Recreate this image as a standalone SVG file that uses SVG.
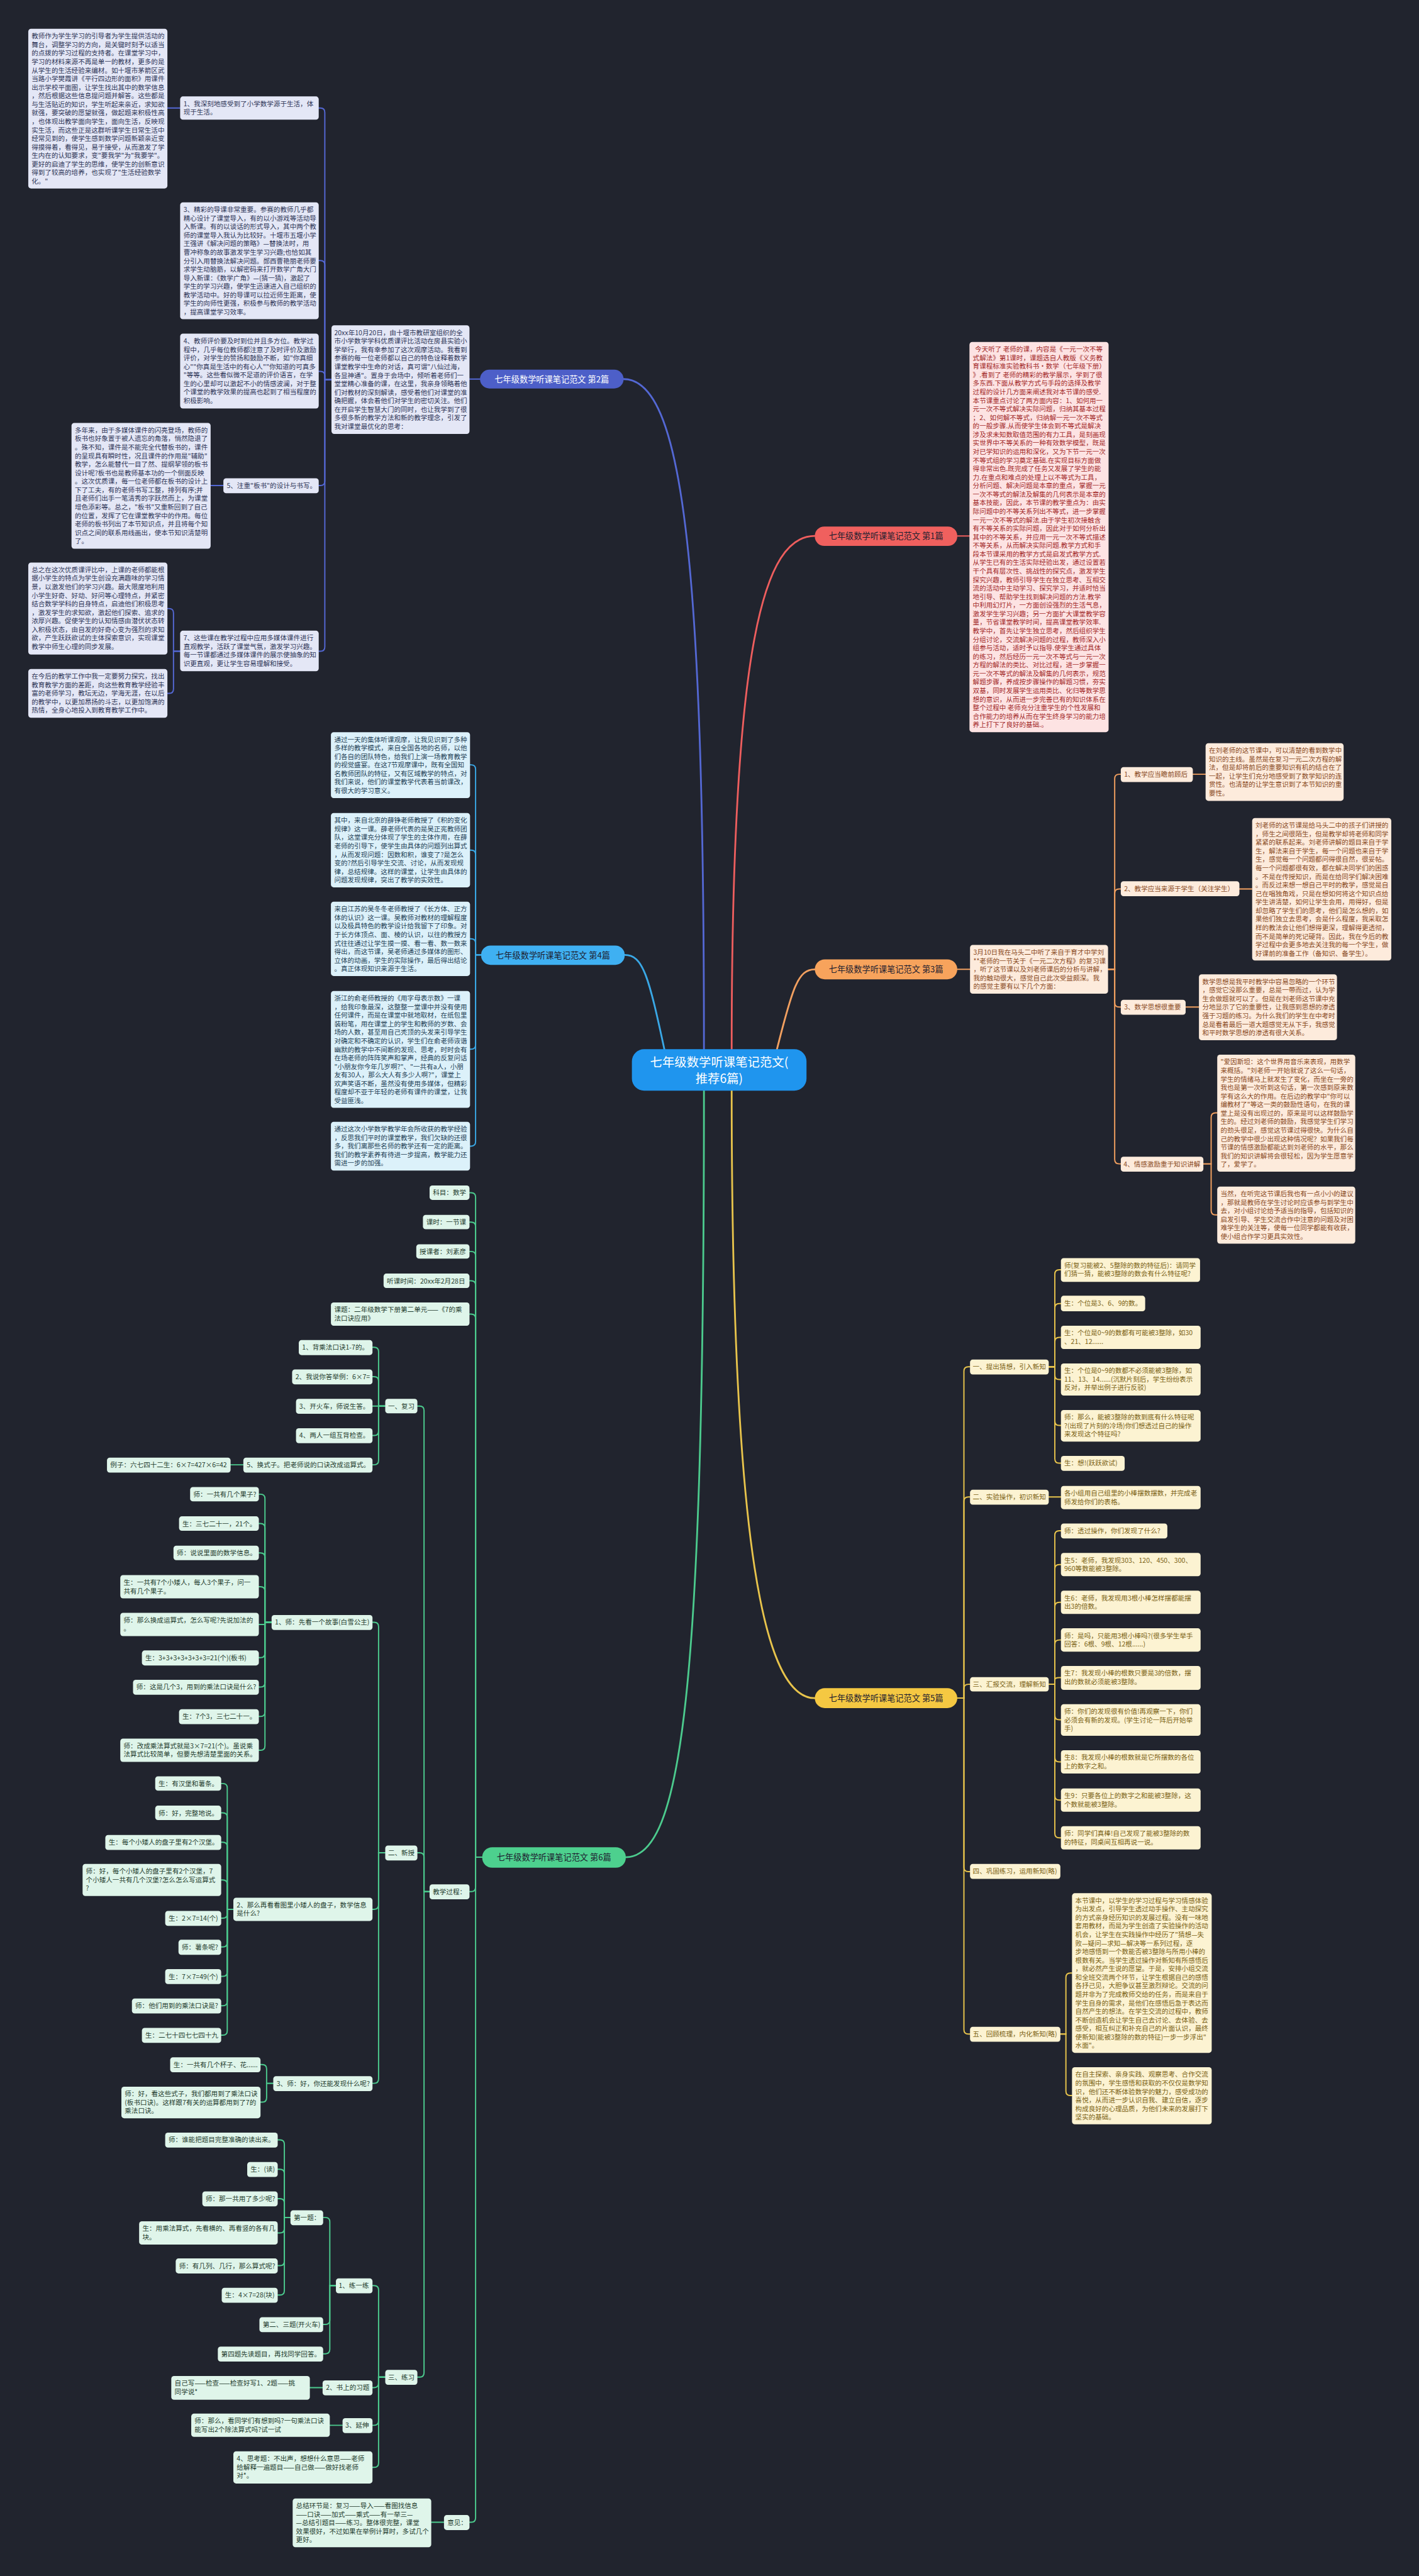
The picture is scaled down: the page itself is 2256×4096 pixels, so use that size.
<svg xmlns="http://www.w3.org/2000/svg" width="2256" height="4096" viewBox="0 0 2256 4096">
<style>
text{font-family:"Noto Sans CJK SC","Noto Sans",sans-serif;font-size:12px}
.c path{fill:none;stroke-width:2.2;stroke-linecap:round}
.m path{fill:none;stroke-width:3.2;stroke-linecap:round}
.k1 rect{fill:#fde3e3}.k1 text{fill:#a42a2a}
.k2 rect{fill:#e4e7f6}.k2 text{fill:#2f3658}
.k3 rect{fill:#fdebdc}.k3 text{fill:#8a4a1e}
.k4 rect{fill:#dcf1fa}.k4 text{fill:#1f4257}
.k5 rect{fill:#fcf3d2}.k5 text{fill:#7b6214}
.k6 rect{fill:#dff5ea}.k6 text{fill:#1f3d2f}
.pill text{font-size:15px;text-anchor:middle;fill:#1e2130}
</style>
<rect width="2256" height="4096" fill="#21242e"/>
<g transform="scale(0.88125)">
<g id="connectors">
<g class="m">
<path stroke="#5468d4" d="M 1270 1893 C 1270 1000, 1230 684, 1125 684"/>
<path stroke="#ee5e5e" d="M 1320 1893 C 1320 1150, 1380 967, 1470 967"/>
<path stroke="#f2a060" d="M 1400 1900 C 1430 1780, 1440 1749, 1470 1749"/>
<path stroke="#3aa8e6" d="M 1200 1900 C 1170 1760, 1160 1723, 1127 1723"/>
<path stroke="#e8c44c" d="M 1320 1968 C 1320 2800, 1380 3064, 1470 3064"/>
<path stroke="#4ccb8e" d="M 1270 1968 C 1270 3050, 1230 3351, 1129 3351"/>
</g>
<g class="c" stroke="#5468d4">
<path d="M 866 684 H 847"/>
<path d="M 598 685 H 586 V 203 Q 586 195 578 195 H 575"/>
<path d="M 598 685 H 586 V 478 Q 586 470 578 470 H 575"/>
<path d="M 598 685 H 586 V 678 Q 586 670 578 670 H 575"/>
<path d="M 598 685 H 586 V 868 Q 586 876 578 876 H 575"/>
<path d="M 598 685 H 586 V 1167 Q 586 1175 578 1175 H 575"/>
<path d="M 325 195 H 302"/>
<path d="M 403 876 H 380"/>
<path d="M 325 1175 H 313 V 1106 Q 313 1098 305 1098 H 302"/>
<path d="M 325 1175 H 313 V 1243 Q 313 1251 305 1251 H 302"/>
</g>
<g class="c" stroke="#3aa8e6">
<path d="M 868 1723 H 858 V 1388 Q 858 1380 850 1380 H 848"/>
<path d="M 868 1723 H 858 V 1542 Q 858 1534 850 1534 H 848"/>
<path d="M 868 1723 H 858 V 1702 Q 858 1694 850 1694 H 848"/>
<path d="M 868 1723 H 858 V 1885 Q 858 1893 850 1893 H 848"/>
<path d="M 868 1723 H 858 V 2060 Q 858 2068 850 2068 H 848"/>
</g>
<g class="c" stroke="#4ccb8e">
<path d="M 870 3351 H 858 V 2160 Q 858 2152 850 2152 H 847"/>
<path d="M 870 3351 H 858 V 2213 Q 858 2205 850 2205 H 847"/>
<path d="M 870 3351 H 858 V 2266 Q 858 2258 850 2258 H 847"/>
<path d="M 870 3351 H 858 V 2319 Q 858 2311 850 2311 H 847"/>
<path d="M 870 3351 H 858 V 2379 Q 858 2371 850 2371 H 847"/>
<path d="M 870 3351 H 858 V 3405 Q 858 3413 850 3413 H 847"/>
<path d="M 870 3351 H 858 V 4543 Q 858 4551 850 4551 H 847"/>
<path d="M 777 3413 H 765 V 2545 Q 765 2537 757 2537 H 753"/>
<path d="M 777 3413 H 765 V 3351 Q 765 3343 757 3343 H 753"/>
<path d="M 777 3413 H 765 V 4281 Q 765 4289 757 4289 H 753"/>
<path d="M 695 2537 H 683 V 2439 Q 683 2431 675 2431 H 672"/>
<path d="M 695 2537 H 683 V 2492 Q 683 2484 675 2484 H 672"/>
<path d="M 695 2537 H 672"/>
<path d="M 695 2537 H 683 V 2582 Q 683 2590 675 2590 H 672"/>
<path d="M 695 2537 H 683 V 2635 Q 683 2643 675 2643 H 672"/>
<path d="M 439 2643 H 416"/>
<path d="M 695 3343 H 683 V 2935 Q 683 2927 675 2927 H 672"/>
<path d="M 695 3343 H 683 V 3437 Q 683 3445 675 3445 H 672"/>
<path d="M 695 3343 H 683 V 3751 Q 683 3759 675 3759 H 672"/>
<path d="M 490 2927 H 478 V 2704 Q 478 2696 470 2696 H 467"/>
<path d="M 490 2927 H 478 V 2757 Q 478 2749 470 2749 H 467"/>
<path d="M 490 2927 H 478 V 2810 Q 478 2802 470 2802 H 467"/>
<path d="M 490 2927 H 478 V 2871 Q 478 2863 470 2863 H 467"/>
<path d="M 490 2927 H 478 V 2931 H 467"/>
<path d="M 490 2927 H 478 V 2983 Q 478 2991 470 2991 H 467"/>
<path d="M 490 2927 H 478 V 3036 Q 478 3044 470 3044 H 467"/>
<path d="M 490 2927 H 478 V 3089 Q 478 3097 470 3097 H 467"/>
<path d="M 490 2927 H 478 V 3150 Q 478 3158 470 3158 H 467"/>
<path d="M 421 3445 H 410 V 3226 Q 410 3218 402 3218 H 399"/>
<path d="M 421 3445 H 410 V 3279 Q 410 3271 402 3271 H 399"/>
<path d="M 421 3445 H 410 V 3332 Q 410 3324 402 3324 H 399"/>
<path d="M 421 3445 H 410 V 3400 Q 410 3392 402 3392 H 399"/>
<path d="M 421 3445 H 410 V 3453 Q 410 3461 402 3461 H 399"/>
<path d="M 421 3445 H 410 V 3505 Q 410 3513 402 3513 H 399"/>
<path d="M 421 3445 H 410 V 3558 Q 410 3566 402 3566 H 399"/>
<path d="M 421 3445 H 410 V 3611 Q 410 3619 402 3619 H 399"/>
<path d="M 421 3445 H 410 V 3664 Q 410 3672 402 3672 H 399"/>
<path d="M 493 3759 H 481 V 3733 Q 481 3725 473 3725 H 470"/>
<path d="M 493 3759 H 481 V 3785 Q 481 3793 473 3793 H 470"/>
<path d="M 695 4289 H 683 V 4132 Q 683 4124 675 4124 H 672"/>
<path d="M 695 4289 H 683 V 4300 Q 683 4308 675 4308 H 672"/>
<path d="M 695 4289 H 683 V 4368 Q 683 4376 675 4376 H 672"/>
<path d="M 695 4289 H 683 V 4444 Q 683 4452 675 4452 H 672"/>
<path d="M 606 4124 H 595 V 4009 Q 595 4001 587 4001 H 583"/>
<path d="M 606 4124 H 595 V 4186 Q 595 4194 587 4194 H 583"/>
<path d="M 606 4124 H 595 V 4239 Q 595 4247 587 4247 H 583"/>
<path d="M 524 4001 H 513 V 3869 Q 513 3861 505 3861 H 501"/>
<path d="M 524 4001 H 513 V 3922 Q 513 3914 505 3914 H 501"/>
<path d="M 524 4001 H 513 V 3975 Q 513 3967 505 3967 H 501"/>
<path d="M 524 4001 H 513 V 4021 Q 513 4029 505 4029 H 501"/>
<path d="M 524 4001 H 513 V 4080 Q 513 4088 505 4088 H 501"/>
<path d="M 524 4001 H 513 V 4133 Q 513 4141 505 4141 H 501"/>
<path d="M 582 4308 H 559"/>
<path d="M 618 4376 H 595"/>
<path d="M 801 4551 H 778"/>
</g>
<g class="c" stroke="#ee5e5e">
<path d="M 1727 967 H 1749"/>
</g>
<g class="c" stroke="#f2a060">
<path d="M 1727 1749 H 1750"/>
<path d="M 1999 1749 H 2011 V 1405 Q 2011 1397 2019 1397 H 2022"/>
<path d="M 1999 1749 H 2011 V 1612 Q 2011 1604 2019 1604 H 2022"/>
<path d="M 1999 1749 H 2011 V 1809 Q 2011 1817 2019 1817 H 2022"/>
<path d="M 1999 1749 H 2011 V 2092 Q 2011 2100 2019 2100 H 2022"/>
<path d="M 2152 1397 H 2175"/>
<path d="M 2236 1604 H 2259"/>
<path d="M 2139 1817 H 2163"/>
<path d="M 2171 2100 H 2185 V 2016 Q 2185 2008 2193 2008 H 2196"/>
<path d="M 2171 2100 H 2185 V 2184 Q 2185 2192 2193 2192 H 2196"/>
</g>
<g class="c" stroke="#e8c44c">
<path d="M 1727 3064 H 1739 V 2474 Q 1739 2466 1747 2466 H 1750"/>
<path d="M 1727 3064 H 1739 V 2709 Q 1739 2701 1747 2701 H 1750"/>
<path d="M 1727 3064 H 1739 V 3047 Q 1739 3039 1747 3039 H 1750"/>
<path d="M 1727 3064 H 1739 V 3369 Q 1739 3377 1747 3377 H 1750"/>
<path d="M 1727 3064 H 1739 V 3662 Q 1739 3670 1747 3670 H 1750"/>
<path d="M 1892 2466 H 1903 V 2299 Q 1903 2291 1911 2291 H 1914"/>
<path d="M 1892 2466 H 1903 V 2360 Q 1903 2352 1911 2352 H 1914"/>
<path d="M 1892 2466 H 1903 V 2421 Q 1903 2413 1911 2413 H 1914"/>
<path d="M 1892 2466 H 1903 V 2481 Q 1903 2489 1911 2489 H 1914"/>
<path d="M 1892 2466 H 1903 V 2564 Q 1903 2572 1911 2572 H 1914"/>
<path d="M 1892 2466 H 1903 V 2632 Q 1903 2640 1911 2640 H 1914"/>
<path d="M 1892 2701 H 1914"/>
<path d="M 1892 3039 H 1903 V 2770 Q 1903 2762 1911 2762 H 1914"/>
<path d="M 1892 3039 H 1903 V 2831 Q 1903 2823 1911 2823 H 1914"/>
<path d="M 1892 3039 H 1903 V 2899 Q 1903 2891 1911 2891 H 1914"/>
<path d="M 1892 3039 H 1903 V 2967 Q 1903 2959 1911 2959 H 1914"/>
<path d="M 1892 3039 H 1903 V 3031 Q 1903 3027 1911 3027 H 1914"/>
<path d="M 1892 3039 H 1903 V 3095 Q 1903 3103 1911 3103 H 1914"/>
<path d="M 1892 3039 H 1903 V 3171 Q 1903 3179 1911 3179 H 1914"/>
<path d="M 1892 3039 H 1903 V 3240 Q 1903 3248 1911 3248 H 1914"/>
<path d="M 1892 3039 H 1903 V 3308 Q 1903 3316 1911 3316 H 1914"/>
<path d="M 1913 3670 H 1923 V 3568 Q 1923 3560 1931 3560 H 1934"/>
<path d="M 1913 3670 H 1923 V 3773 Q 1923 3781 1931 3781 H 1934"/>
</g>
</g>

<g id="center">
<rect x="1140" y="1893" width="315" height="75" rx="22" fill="#1f95ee"/>
<text x="1297.5" y="1925" font-size="22" fill="#ffffff" text-anchor="middle" style="font-size:22px">七年级数学听课笔记范文(</text>
<text x="1297.5" y="1954" font-size="22" fill="#ffffff" text-anchor="middle" style="font-size:22px">推荐6篇)</text>
</g>

<g id="pill2" class="pill"><rect x="866" y="667" width="259" height="34" rx="17" fill="#4d5fc8"/><text x="995.5" y="689.5" style="fill:#ffffff">七年级数学听课笔记范文 第2篇</text></g>
<g id="pill1" class="pill"><rect x="1470" y="950" width="257" height="35" rx="17" fill="#f0605e"/><text x="1598.5" y="973">七年级数学听课笔记范文 第1篇</text></g>
<g id="pill3" class="pill"><rect x="1470" y="1731" width="257" height="36" rx="18" fill="#f7a35c"/><text x="1598.5" y="1754.5">七年级数学听课笔记范文 第3篇</text></g>
<g id="pill4" class="pill"><rect x="868" y="1706" width="259" height="35" rx="17" fill="#3fb0f2"/><text x="997.5" y="1729">七年级数学听课笔记范文 第4篇</text></g>
<g id="pill5" class="pill"><rect x="1470" y="3046" width="257" height="36" rx="18" fill="#f5c842"/><text x="1598.5" y="3069.5">七年级数学听课笔记范文 第5篇</text></g>
<g id="pill6" class="pill"><rect x="870" y="3333" width="259" height="37" rx="18" fill="#4dd08e"/><text x="999.5" y="3357">七年级数学听课笔记范文 第6篇</text></g>

<!-- 第2篇 -->
<g id="n2_0" class="k2"><rect x="598" y="587" width="249" height="196" rx="5"/><text x="603" y="604.5"><tspan x="603" dy="0">20xx年10月20日，由十堰市教研室组织的全</tspan><tspan x="603" dy="15.4">市小学数学学科优质课评比活动在房县实验小</tspan><tspan x="603" dy="15.4">学举行，我有幸参加了这次观摩活动。我看到</tspan><tspan x="603" dy="15.4">参赛的每一位老师都以自己的特色诠释着数学</tspan><tspan x="603" dy="15.4">课堂教学中生命的对话，真可谓"八仙过海，</tspan><tspan x="603" dy="15.4">各显神通"。置身于会场中，倾听着老师们一</tspan><tspan x="603" dy="15.4">堂堂精心准备的课，在这里，我亲身领略着他</tspan><tspan x="603" dy="15.4">们对教材的深刻解读，感受着他们对课堂的准</tspan><tspan x="603" dy="15.4">确把握，体会着他们对学生的密切关注。他们</tspan><tspan x="603" dy="15.4">在开启学生智慧大门的同时，也让我学到了很</tspan><tspan x="603" dy="15.4">多很多新的教学方法和新的教学理念，引发了</tspan><tspan x="603" dy="15.4">我对课堂最优化的思考：</tspan></text></g>
<g id="n2_1" class="k2"><rect x="325" y="174" width="250" height="42" rx="5"/><text x="331" y="191.5"><tspan x="331" dy="0">1、我深刻地感受到了小学数学源于生活，体</tspan><tspan x="331" dy="15.4">现于生活。</tspan></text></g>
<g id="n2_1a" class="k2"><rect x="51" y="52" width="251" height="288" rx="5"/><text x="57" y="69.5"><tspan x="57" dy="0">教师作为学生学习的引导者为学生提供活动的</tspan><tspan x="57" dy="15.4">舞台，调整学习的方向，是关键时刻予以适当</tspan><tspan x="57" dy="15.4">的点拨的学习过程的支持者。在课堂学习中，</tspan><tspan x="57" dy="15.4">学习的材料来源不再是单一的教材，更多的是</tspan><tspan x="57" dy="15.4">从学生的生活经验来编材。如十堰市茅箭区武</tspan><tspan x="57" dy="15.4">当路小学樊霞讲《平行四边形的面积》用课件</tspan><tspan x="57" dy="15.4">出示学校平面图，让学生找出其中的数学信息</tspan><tspan x="57" dy="15.4">，然后根据这些信息提问题并解答。这些都是</tspan><tspan x="57" dy="15.4">与生活贴近的知识，学生听起来亲近，求知欲</tspan><tspan x="57" dy="15.4">就强，要突破的愿望就强，做起题来积极性高</tspan><tspan x="57" dy="15.4">，也体现出教学面向学生，面向生活，反映现</tspan><tspan x="57" dy="15.4">实生活，而这些正是这群听课学生日常生活中</tspan><tspan x="57" dy="15.4">经常见到的，使学生感到数学问题新颖亲近变</tspan><tspan x="57" dy="15.4">得摸得着，看得见，易于接受，从而激发了学</tspan><tspan x="57" dy="15.4">生内在的认知要求，变"要我学"为"我要学"。</tspan><tspan x="57" dy="15.4">更好的启迪了学生的思维，使学生的创新意识</tspan><tspan x="57" dy="15.4">得到了较高的培养，也实现了"生活经验数学</tspan><tspan x="57" dy="15.4">化。"</tspan></text></g>
<g id="n2_3" class="k2"><rect x="325" y="365" width="250" height="211" rx="5"/><text x="331" y="382.5"><tspan x="331" dy="0">3、精彩的导课非常重要。参赛的教师几乎都</tspan><tspan x="331" dy="15.4">精心设计了课堂导入，有的以小游戏等活动导</tspan><tspan x="331" dy="15.4">入新课。有的以谈话的形式导入，其中两个教</tspan><tspan x="331" dy="15.4">师的课堂导入我认为比较好。十堰市五堰小学</tspan><tspan x="331" dy="15.4">王强讲《解决问题的策略》—替换法时，用</tspan><tspan x="331" dy="15.4">曹冲称象的故事激发学生学习兴趣;也恰如其</tspan><tspan x="331" dy="15.4">分引入用替换法解决问题。郧西曹艳丽老师要</tspan><tspan x="331" dy="15.4">求学生动脑筋，以解密码来打开数学广角大门</tspan><tspan x="331" dy="15.4">导入新课：《数学广角》—(猜一猜)，激起了</tspan><tspan x="331" dy="15.4">学生的学习兴趣，使学生迅速进入自己组织的</tspan><tspan x="331" dy="15.4">教学活动中。好的导课可以拉近师生距离，使</tspan><tspan x="331" dy="15.4">学生的向师性更强，积极参与教师的教学活动</tspan><tspan x="331" dy="15.4">，提高课堂学习效率。</tspan></text></g>
<g id="n2_4" class="k2"><rect x="325" y="602" width="250" height="135" rx="5"/><text x="331" y="619.5"><tspan x="331" dy="0">4、教师评价要及时到位并且多方位。教学过</tspan><tspan x="331" dy="15.4">程中，几乎每位教师都注意了及时评价及激励</tspan><tspan x="331" dy="15.4">评价，对学生的赞扬和鼓励不断，如"你真细</tspan><tspan x="331" dy="15.4">心""你真是生活中的有心人""你知道的可真多</tspan><tspan x="331" dy="15.4">"等等。这些看似微不足道的评价语言，在学</tspan><tspan x="331" dy="15.4">生的心里却可以激起不小的情感波澜，对于整</tspan><tspan x="331" dy="15.4">个课堂的教学效果的提高也起到了相当程度的</tspan><tspan x="331" dy="15.4">积极影响。</tspan></text></g>
<g id="n2_5" class="k2"><rect x="403" y="863" width="172" height="27" rx="5"/><text x="409" y="880.5">5、注重"板书"的设计与书写。</text></g>
<g id="n2_5a" class="k2"><rect x="129" y="763" width="251" height="227" rx="5"/><text x="135" y="780.5"><tspan x="135" dy="0">多年来，由于多媒体课件的闪亮登场，教师的</tspan><tspan x="135" dy="15.4">板书也好象置于被人遗忘的角落，悄然隐退了</tspan><tspan x="135" dy="15.4">。殊不知，课件是不能完全代替板书的，课件</tspan><tspan x="135" dy="15.4">的呈现具有瞬时性，况且课件的作用是"辅助"</tspan><tspan x="135" dy="15.4">教学，怎么能替代一目了然、提纲挈领的板书</tspan><tspan x="135" dy="15.4">设计呢?板书也是教师基本功的一个侧面反映</tspan><tspan x="135" dy="15.4">。这次优质课，每一位老师都在板书的设计上</tspan><tspan x="135" dy="15.4">下了工夫，有的老师书写工整，排列有序;并</tspan><tspan x="135" dy="15.4">且老师们出手一笔清秀的字跃然而上，为课堂</tspan><tspan x="135" dy="15.4">增色添彩等。总之，"板书"又重新回到了自己</tspan><tspan x="135" dy="15.4">的位置，发挥了它在课堂教学中的作用。每位</tspan><tspan x="135" dy="15.4">老师的板书列出了本节知识点，并且将每个知</tspan><tspan x="135" dy="15.4">识点之间的联系用线画出，使本节知识清楚明</tspan><tspan x="135" dy="15.4">了。</tspan></text></g>
<g id="n2_7" class="k2"><rect x="325" y="1138" width="250" height="73" rx="5"/><text x="331" y="1155.5"><tspan x="331" dy="0">7、这些课在教学过程中应用多媒体课件进行</tspan><tspan x="331" dy="15.4">直观教学，活跃了课堂气氛，激发学习兴趣。</tspan><tspan x="331" dy="15.4">每一节课都通过多媒体课件的展示使抽象的知</tspan><tspan x="331" dy="15.4">识更直观，更让学生容易理解和接受。</tspan></text></g>
<g id="n2_7a" class="k2"><rect x="51" y="1015" width="251" height="166" rx="5"/><text x="57" y="1032.5"><tspan x="57" dy="0">总之在这次优质课评比中，上课的老师都能根</tspan><tspan x="57" dy="15.4">据小学生的特点为学生创设充满趣味的学习情</tspan><tspan x="57" dy="15.4">景，以激发他们的学习兴趣。最大限度地利用</tspan><tspan x="57" dy="15.4">小学生好奇、好动、好问等心理特点，并紧密</tspan><tspan x="57" dy="15.4">结合数学学科的自身特点，启迪他们积极思考</tspan><tspan x="57" dy="15.4">，激发学生的求知欲，激起他们探索、追求的</tspan><tspan x="57" dy="15.4">浓厚兴趣。促使学生的认知情感由潜伏状态转</tspan><tspan x="57" dy="15.4">入积极状态，由自发的好奇心变为强烈的求知</tspan><tspan x="57" dy="15.4">欲，产生跃跃欲试的主体探索意识，实现课堂</tspan><tspan x="57" dy="15.4">教学中师生心理的同步发展。</tspan></text></g>
<g id="n2_7b" class="k2"><rect x="51" y="1207" width="251" height="88" rx="5"/><text x="57" y="1224.5"><tspan x="57" dy="0">在今后的教学工作中我一定要努力探究，找出</tspan><tspan x="57" dy="15.4">教育教学方面的差距，向这些教育教学经验丰</tspan><tspan x="57" dy="15.4">富的老师学习，教坛无边，学海无涯，在以后</tspan><tspan x="57" dy="15.4">的教学中，以更加昂扬的斗志，以更加饱满的</tspan><tspan x="57" dy="15.4">热情，全身心地投入到教育教学工作中。</tspan></text></g>

<!-- 第4篇 -->
<g id="n4_1" class="k4"><rect x="597" y="1321" width="251" height="119" rx="5"/><text x="603" y="1338.5"><tspan x="603" dy="0">通过一天的集体听课观摩，让我见识到了多种</tspan><tspan x="603" dy="15.4">多样的教学模式，来自全国各地的名师，以他</tspan><tspan x="603" dy="15.4">们各自的团队特色，给我们上演一场教育教学</tspan><tspan x="603" dy="15.4">的视觉盛宴。在这7节观摩课中，既有全国知</tspan><tspan x="603" dy="15.4">名教师团队的特征，又有区域教学的特点，对</tspan><tspan x="603" dy="15.4">我们来说，他们的课堂教学代表着当前课改，</tspan><tspan x="603" dy="15.4">有很大的学习意义。</tspan></text></g>
<g id="n4_2" class="k4"><rect x="597" y="1467" width="251" height="134" rx="5"/><text x="603" y="1484.5"><tspan x="603" dy="0">其中，来自北京的薛铮老师教授了《积的变化</tspan><tspan x="603" dy="15.4">规律》这一课。薛老师代表的是吴正宪教师团</tspan><tspan x="603" dy="15.4">队，这堂课充分体现了学生的主体作用，在薛</tspan><tspan x="603" dy="15.4">老师的引导下，使学生由具体的问题列出算式</tspan><tspan x="603" dy="15.4">，从而发现问题：因数和积，谁变了?是怎么</tspan><tspan x="603" dy="15.4">变的?然后引导学生交流、讨论，从而发现规</tspan><tspan x="603" dy="15.4">律，总结规律。这样的课堂，让学生由具体的</tspan><tspan x="603" dy="15.4">问题发现规律，突出了教学的实效性。</tspan></text></g>
<g id="n4_3" class="k4"><rect x="597" y="1627" width="251" height="134" rx="5"/><text x="603" y="1644.5"><tspan x="603" dy="0">来自江苏的吴冬冬老师教授了《长方体、正方</tspan><tspan x="603" dy="15.4">体的认识》这一课。吴教师对教材的理解程度</tspan><tspan x="603" dy="15.4">以及极具特色的教学设计给我留下了印象。对</tspan><tspan x="603" dy="15.4">于长方体顶点、面、棱的认识，以往的教授方</tspan><tspan x="603" dy="15.4">式往往通过让学生摸一摸、看一看、数一数来</tspan><tspan x="603" dy="15.4">得出，而这节课，吴老师通过多媒体的图形、</tspan><tspan x="603" dy="15.4">立体的动画，学生的实际操作，最后得出结论</tspan><tspan x="603" dy="15.4">。真正体现知识来源于生活。</tspan></text></g>
<g id="n4_4" class="k4"><rect x="597" y="1788" width="251" height="211" rx="5"/><text x="603" y="1805.5"><tspan x="603" dy="0">浙江的俞老师教授的《用字母表示数》一课</tspan><tspan x="603" dy="15.4">，给我印象最深，这整整一堂课中并没有使用</tspan><tspan x="603" dy="15.4">任何课件，而是在课堂中就地取材，在纸包里</tspan><tspan x="603" dy="15.4">装粉笔，用在课堂上的学生和教师的岁数、会</tspan><tspan x="603" dy="15.4">场的人数，甚至用自己秃顶的头发来引导学生</tspan><tspan x="603" dy="15.4">对确定和不确定的认识，学生们在俞老师诙谐</tspan><tspan x="603" dy="15.4">幽默的教学中不间断的发现、思考，时时会有</tspan><tspan x="603" dy="15.4">在场老师的阵阵笑声和掌声，经典的反复问话</tspan><tspan x="603" dy="15.4">"小朋友你今年几岁啊?"、"一共有a人，小朋</tspan><tspan x="603" dy="15.4">友有30人，那么大人有多少人啊?"，课堂上</tspan><tspan x="603" dy="15.4">欢声笑语不断，虽然没有使用多媒体，但精彩</tspan><tspan x="603" dy="15.4">程度却不亚于年轻的老师有课件的课堂，让我</tspan><tspan x="603" dy="15.4">受益匪浅。</tspan></text></g>
<g id="n4_5" class="k4"><rect x="597" y="2024" width="251" height="88" rx="5"/><text x="603" y="2041.5"><tspan x="603" dy="0">通过这次小学数学教学年会所收获的教学经验</tspan><tspan x="603" dy="15.4">，反思我们平时的课堂教学，我们欠缺的还很</tspan><tspan x="603" dy="15.4">多，我们离那些名师的教学还有一定的距离。</tspan><tspan x="603" dy="15.4">我们的教学素养有待进一步提高，教学能力还</tspan><tspan x="603" dy="15.4">需进一步的加强。</tspan></text></g>

<!-- 第6篇 -->
<g id="n6_km" class="k6"><rect x="775" y="2139" width="72" height="26" rx="5"/><text x="781" y="2156.5">科目：数学</text></g>
<g id="n6_ks" class="k6"><rect x="763" y="2192" width="84" height="26" rx="5"/><text x="769" y="2209.5">课时：一节课</text></g>
<g id="n6_sk" class="k6"><rect x="751" y="2245" width="96" height="26" rx="5"/><text x="757" y="2262.5">授课者：刘素彦</text></g>
<g id="n6_tk" class="k6"><rect x="692" y="2298" width="155" height="26" rx="5"/><text x="698" y="2315.5">听课时间：20xx年2月28日</text></g>
<g id="n6_kt" class="k6"><rect x="597" y="2350" width="250" height="42" rx="5"/><text x="603" y="2367.5"><tspan x="603" dy="0">课题：二年级数学下册第二单元——《7的乘</tspan><tspan x="603" dy="15.4">法口诀应用》</tspan></text></g>
<g id="n6_jx" class="k6"><rect x="775" y="3400" width="72" height="27" rx="5"/><text x="781" y="3417.5">教学过程：</text></g>
<g id="n6_yj" class="k6"><rect x="801" y="4538" width="46" height="27" rx="5"/><text x="807" y="4555.5">意见：</text></g>
<g id="n6_yj1" class="k6"><rect x="528" y="4508" width="250" height="88" rx="5"/><text x="534" y="4525.5"><tspan x="534" dy="0">总结环节是：复习——导入——看图找信息</tspan><tspan x="534" dy="15.4">——口诀——加式——乘式——有一举三—</tspan><tspan x="534" dy="15.4">—总结引题目——练习。整体很完整，课堂</tspan><tspan x="534" dy="15.4">效果很好，不过如果在举例计算时，多试几个</tspan><tspan x="534" dy="15.4">更好。</tspan></text></g>
<g id="n6_1" class="k6"><rect x="695" y="2524" width="58" height="26" rx="5"/><text x="700" y="2541.5">一、复习</text></g>
<g id="n6_2" class="k6"><rect x="695" y="3330" width="58" height="27" rx="5"/><text x="700" y="3347.5">二、新授</text></g>
<g id="n6_3" class="k6"><rect x="695" y="4276" width="58" height="27" rx="5"/><text x="700" y="4293.5">三、练习</text></g>
<g id="n6_1_1" class="k6"><rect x="539" y="2418" width="133" height="27" rx="5"/><text x="545" y="2435.5">1、背乘法口诀1-7的。</text></g>
<g id="n6_1_2" class="k6"><rect x="527" y="2471" width="145" height="27" rx="5"/><text x="533" y="2488.5">2、我说你答举例：6×7=</text></g>
<g id="n6_1_3" class="k6"><rect x="534" y="2524" width="138" height="27" rx="5"/><text x="540" y="2541.5">3、开火车，师说生答。</text></g>
<g id="n6_1_4" class="k6"><rect x="534" y="2577" width="138" height="27" rx="5"/><text x="540" y="2594.5">4、两人一组互背检查。</text></g>
<g id="n6_1_5" class="k6"><rect x="439" y="2630" width="233" height="27" rx="5"/><text x="445" y="2647.5">5、换式子。把老师说的口诀改成运算式。</text></g>
<g id="n6_1_5a" class="k6"><rect x="193" y="2630" width="223" height="27" rx="5"/><text x="199" y="2647.5">例子：六七四十二生：6×7=427×6=42</text></g>
<g id="n6_2_1" class="k6"><rect x="490" y="2914" width="182" height="27" rx="5"/><text x="496" y="2931.5">1、师：先看一个故事(白雪公主)</text></g>
<g id="n6_2_1a" class="k6"><rect x="343" y="2683" width="124" height="26" rx="5"/><text x="349" y="2700.5">师：一共有几个果子?</text></g>
<g id="n6_2_1b" class="k6"><rect x="323" y="2736" width="144" height="26" rx="5"/><text x="329" y="2753.5">生：三七二十一，21个。</text></g>
<g id="n6_2_1c" class="k6"><rect x="313" y="2789" width="154" height="26" rx="5"/><text x="319" y="2806.5">师：说说里面的数学信息。</text></g>
<g id="n6_2_1d" class="k6"><rect x="217" y="2842" width="250" height="42" rx="5"/><text x="223" y="2859.5"><tspan x="223" dy="0">生：一共有7个小矮人，每人3个果子，问一</tspan><tspan x="223" dy="15.4">共有几个果子。</tspan></text></g>
<g id="n6_2_1e" class="k6"><rect x="217" y="2910" width="250" height="42" rx="5"/><text x="223" y="2927.5"><tspan x="223" dy="0">师：那么换成运算式，怎么写呢?先说加法的</tspan><tspan x="223" dy="15.4">。</tspan></text></g>
<g id="n6_2_1f" class="k6"><rect x="256" y="2978" width="211" height="27" rx="5"/><text x="262" y="2995.5">生：3+3+3+3+3+3+3=21(个)(板书)</text></g>
<g id="n6_2_1g" class="k6"><rect x="240" y="3031" width="227" height="27" rx="5"/><text x="246" y="3048.5">师：这是几个3，用到的乘法口诀是什么?</text></g>
<g id="n6_2_1h" class="k6"><rect x="323" y="3084" width="144" height="27" rx="5"/><text x="329" y="3101.5">生：7个3，三七二十一。</text></g>
<g id="n6_2_1i" class="k6"><rect x="217" y="3137" width="250" height="42" rx="5"/><text x="223" y="3154.5"><tspan x="223" dy="0">师：改成乘法算式就是3×7=21(个)。虽说乘</tspan><tspan x="223" dy="15.4">法算式比较简单，但要先想清楚里面的关系。</tspan></text></g>
<g id="n6_2_2" class="k6"><rect x="421" y="3424" width="251" height="42" rx="5"/><text x="427" y="3441.5"><tspan x="427" dy="0">2、那么再看看图里小矮人的盘子，数学信息</tspan><tspan x="427" dy="15.4">是什么?</tspan></text></g>
<g id="n6_2_2a" class="k6"><rect x="280" y="3205" width="119" height="26" rx="5"/><text x="286" y="3222.5">生：有汉堡和薯条。</text></g>
<g id="n6_2_2b" class="k6"><rect x="280" y="3258" width="119" height="26" rx="5"/><text x="286" y="3275.5">师：好，完整地说。</text></g>
<g id="n6_2_2c" class="k6"><rect x="190" y="3311" width="209" height="27" rx="5"/><text x="196" y="3328.5">生：每个小矮人的盘子里有2个汉堡。</text></g>
<g id="n6_2_2d" class="k6"><rect x="149" y="3363" width="250" height="58" rx="5"/><text x="155" y="3380.5"><tspan x="155" dy="0">师：好，每个小矮人的盘子里有2个汉堡，7</tspan><tspan x="155" dy="15.4">个小矮人一共有几个汉堡?怎么怎么写运算式</tspan><tspan x="155" dy="15.4">?</tspan></text></g>
<g id="n6_2_2e" class="k6"><rect x="298" y="3448" width="101" height="27" rx="5"/><text x="304" y="3465.5">生：2×7=14(个)</text></g>
<g id="n6_2_2f" class="k6"><rect x="322" y="3500" width="77" height="27" rx="5"/><text x="328" y="3517.5">师：薯条呢?</text></g>
<g id="n6_2_2g" class="k6"><rect x="298" y="3553" width="101" height="27" rx="5"/><text x="304" y="3570.5">生：7×7=49(个)</text></g>
<g id="n6_2_2h" class="k6"><rect x="238" y="3606" width="161" height="27" rx="5"/><text x="244" y="3623.5">师：他们用到的乘法口诀是?</text></g>
<g id="n6_2_2i" class="k6"><rect x="256" y="3659" width="143" height="27" rx="5"/><text x="262" y="3676.5">生：二七十四七七四十九</text></g>
<g id="n6_2_3" class="k6"><rect x="493" y="3746" width="179" height="27" rx="5"/><text x="499" y="3763.5">3、师：好，你还能发现什么呢?</text></g>
<g id="n6_2_3a" class="k6"><rect x="307" y="3712" width="163" height="27" rx="5"/><text x="313" y="3729.5">生：一共有几个杯子、花......</text></g>
<g id="n6_2_3b" class="k6"><rect x="219" y="3765" width="251" height="57" rx="5"/><text x="225" y="3782.5"><tspan x="225" dy="0">师：好，看这些式子，我们都用到了乘法口诀</tspan><tspan x="225" dy="15.4">(板书口诀)。这样跟7有关的运算都用到了7的</tspan><tspan x="225" dy="15.4">乘法口诀。</tspan></text></g>
<g id="n6_3_1" class="k6"><rect x="606" y="4111" width="66" height="27" rx="5"/><text x="611" y="4128.5">1、练一练</text></g>
<g id="n6_3_1a" class="k6"><rect x="524" y="3988" width="59" height="27" rx="5"/><text x="530" y="4005.5">第一题：</text></g>
<g id="n6_3_1a1" class="k6"><rect x="298" y="3848" width="203" height="27" rx="5"/><text x="304" y="3865.5">师：谁能把题目完整准确的读出来。</text></g>
<g id="n6_3_1a2" class="k6"><rect x="446" y="3901" width="55" height="27" rx="5"/><text x="452" y="3918.5">生：(读)</text></g>
<g id="n6_3_1a3" class="k6"><rect x="365" y="3954" width="136" height="27" rx="5"/><text x="371" y="3971.5">师：那一共用了多少呢?</text></g>
<g id="n6_3_1a4" class="k6"><rect x="251" y="4008" width="250" height="42" rx="5"/><text x="257" y="4025.5"><tspan x="257" dy="0">生：用乘法算式，先看横的、再看竖的各有几</tspan><tspan x="257" dy="15.4">块。</tspan></text></g>
<g id="n6_3_1a5" class="k6"><rect x="317" y="4075" width="184" height="27" rx="5"/><text x="323" y="4092.5">师：有几列、几行，那么算式呢?</text></g>
<g id="n6_3_1a6" class="k6"><rect x="400" y="4128" width="101" height="27" rx="5"/><text x="406" y="4145.5">生：4×7=28(块)</text></g>
<g id="n6_3_1b" class="k6"><rect x="468" y="4181" width="115" height="27" rx="5"/><text x="474" y="4198.5">第二、三题(开火车)</text></g>
<g id="n6_3_1c" class="k6"><rect x="393" y="4234" width="190" height="27" rx="5"/><text x="399" y="4251.5">第四题先读题目，再找同学回答。</text></g>
<g id="n6_3_2" class="k6"><rect x="582" y="4295" width="90" height="27" rx="5"/><text x="588" y="4312.5">2、书上的习题</text></g>
<g id="n6_3_2a" class="k6"><rect x="309" y="4287" width="250" height="43" rx="5"/><text x="315" y="4304.5"><tspan x="315" dy="0">自己写——检查——检查好写1、2题——挑</tspan><tspan x="315" dy="15.4">同学说*</tspan></text></g>
<g id="n6_3_3" class="k6"><rect x="618" y="4363" width="54" height="27" rx="5"/><text x="623" y="4380.5">3、延伸</text></g>
<g id="n6_3_3a" class="k6"><rect x="345" y="4355" width="250" height="42" rx="5"/><text x="351" y="4372.5"><tspan x="351" dy="0">师：那么，看同学们有想到吗?一句乘法口诀</tspan><tspan x="351" dy="15.4">能写出2个除法算式吗?试一试</tspan></text></g>
<g id="n6_3_4" class="k6"><rect x="421" y="4423" width="251" height="58" rx="5"/><text x="427" y="4440.5"><tspan x="427" dy="0">4、思考题：不出声，想想什么意思——老师</tspan><tspan x="427" dy="15.4">给解释一遍题目——自己做——做好找老师</tspan><tspan x="427" dy="15.4">对*。</tspan></text></g>

<!-- 第1篇 -->
<g id="n1_0" class="k1"><rect x="1749" y="617" width="251" height="704" rx="5"/><text x="1755" y="634.5"><tspan x="1759" dy="0">今天听了 老师的课，内容是《一元一次不等</tspan><tspan x="1755" dy="15.4">式解法》第1课时，课题选自人教版《义务教</tspan><tspan x="1755" dy="15.4">育课程标准实验教科书·数学（七年级下册）</tspan><tspan x="1755" dy="15.4">》.看到了 老师的精彩的教学展示，学到了很</tspan><tspan x="1755" dy="15.4">多东西.下面从教学方式与手段的选择及教学</tspan><tspan x="1755" dy="15.4">过程的设计几方面来阐述我对本节课的感受.</tspan><tspan x="1755" dy="15.4">本节课重点讨论了两方面内容：1、如何用一</tspan><tspan x="1755" dy="15.4">元一次不等式解决实际问题，归纳其基本过程</tspan><tspan x="1755" dy="15.4">；2、如何解不等式，归纳解一元一次不等式</tspan><tspan x="1755" dy="15.4">的一般步骤.从而使学生体会到不等式是解决</tspan><tspan x="1755" dy="15.4">涉及求未知数取值范围的有力工具，是刻画现</tspan><tspan x="1755" dy="15.4">实世界中不等关系的一种有效数学模型，既是</tspan><tspan x="1755" dy="15.4">对已学知识的运用和深化，又为下节一元一次</tspan><tspan x="1755" dy="15.4">不等式组的学习奠定基础.在实现目标方面做</tspan><tspan x="1755" dy="15.4">得非常出色.既完成了任务又发展了学生的能</tspan><tspan x="1755" dy="15.4">力.在重点和难点的处理上以不等式为工具，</tspan><tspan x="1755" dy="15.4">分析问题、解决问题是本章的重点，掌握一元</tspan><tspan x="1755" dy="15.4">一次不等式的解法及解集的几何表示是本章的</tspan><tspan x="1755" dy="15.4">基本技能，因此，本节课的教学重点为：由实</tspan><tspan x="1755" dy="15.4">际问题中的不等关系列出不等式，进一步掌握</tspan><tspan x="1755" dy="15.4">一元一次不等式的解法.由于学生初次接触含</tspan><tspan x="1755" dy="15.4">有不等关系的实际问题，因此对于如何分析出</tspan><tspan x="1755" dy="15.4">其中的不等关系，并应用一元一次不等式描述</tspan><tspan x="1755" dy="15.4">不等关系，从而解决实际问题.教学方式和手</tspan><tspan x="1755" dy="15.4">段本节课采用的教学方式是启发式教学方式.</tspan><tspan x="1755" dy="15.4">从学生已有的生活实际经验出发，通过设置若</tspan><tspan x="1755" dy="15.4">干个具有层次性、挑战性的探究点，激发学生</tspan><tspan x="1755" dy="15.4">探究兴趣，教师引导学生在独立思考、互相交</tspan><tspan x="1755" dy="15.4">流的活动中主动学习、探究学习，并适时恰当</tspan><tspan x="1755" dy="15.4">地引导、帮助学生找到解决问题的方法.教学</tspan><tspan x="1755" dy="15.4">中利用幻灯片，一方面创设强烈的生活气息，</tspan><tspan x="1755" dy="15.4">激发学生学习兴趣；另一方面扩大课堂教学容</tspan><tspan x="1755" dy="15.4">量，节省课堂教学时间，提高课堂教学效率.</tspan><tspan x="1755" dy="15.4">教学中，首先让学生独立思考，然后组织学生</tspan><tspan x="1755" dy="15.4">分组讨论，交流解决问题的过程，教师深入小</tspan><tspan x="1755" dy="15.4">组参与活动，适时予以指导.使学生通过具体</tspan><tspan x="1755" dy="15.4">的练习，然后经历一元一次不等式与一元一次</tspan><tspan x="1755" dy="15.4">方程的解法的类比、对比过程，进一步掌握一</tspan><tspan x="1755" dy="15.4">元一次不等式的解法及解集的几何表示，规范</tspan><tspan x="1755" dy="15.4">解题步骤，养成按步骤操作的解题习惯，夯实</tspan><tspan x="1755" dy="15.4">双基，同时发展学生运用类比、化归等数学思</tspan><tspan x="1755" dy="15.4">想的意识，从而进一步完善已有的知识体系在</tspan><tspan x="1755" dy="15.4">整个过程中 老师充分注重学生的个性发展和</tspan><tspan x="1755" dy="15.4">合作能力的培养从而在学生终身学习的能力培</tspan><tspan x="1755" dy="15.4">养上打下了良好的基础.。</tspan></text></g>

<!-- 第3篇 -->
<g id="n3_0" class="k3"><rect x="1750" y="1705" width="249" height="88" rx="5"/><text x="1756" y="1722.5"><tspan x="1756" dy="0">3月10日我在马头二中听了来自于育才中学刘</tspan><tspan x="1756" dy="15.4">**老师的一节关于《一元二次方程》的复习课</tspan><tspan x="1756" dy="15.4">，听了这节课以及刘老师课后的分析与讲解，</tspan><tspan x="1756" dy="15.4">我的触动很大，感觉自己此次受益颇深。我</tspan><tspan x="1756" dy="15.4">的感觉主要有以下几个方面：</tspan></text></g>
<g id="n3_1" class="k3"><rect x="2022" y="1384" width="130" height="27" rx="5"/><text x="2028" y="1401.5">1、教学应当瞻前顾后</text></g>
<g id="n3_1a" class="k3"><rect x="2175" y="1341" width="249" height="104" rx="5"/><text x="2181" y="1358.5"><tspan x="2181" dy="0">在刘老师的这节课中，可以清楚的看到数学中</tspan><tspan x="2181" dy="15.4">知识的主线。虽然是在复习一元二次方程的解</tspan><tspan x="2181" dy="15.4">法，但是却将前后的重要知识有机的结合在了</tspan><tspan x="2181" dy="15.4">一起，让学生们充分地感受到了数学知识的连</tspan><tspan x="2181" dy="15.4">贯性。也清楚的让学生意识到了本节知识的重</tspan><tspan x="2181" dy="15.4">要性。</tspan></text></g>
<g id="n3_2" class="k3"><rect x="2022" y="1590" width="214" height="27" rx="5"/><text x="2028" y="1607.5">2、教学应当来源于学生（关注学生）</text></g>
<g id="n3_2a" class="k3"><rect x="2259" y="1476" width="251" height="257" rx="5"/><text x="2265" y="1493.5"><tspan x="2265" dy="0">刘老师的这节课是给马头二中的孩子们讲授的</tspan><tspan x="2265" dy="15.4">，师生之间很陌生，但是教学却将老师和同学</tspan><tspan x="2265" dy="15.4">紧紧的联系起来。刘老师讲解的题目来自于学</tspan><tspan x="2265" dy="15.4">生，解法来自于学生，每一个问题也来自于学</tspan><tspan x="2265" dy="15.4">生，感觉每一个问题都问得很自然，很妥帖。</tspan><tspan x="2265" dy="15.4">每一个问题都很有效，都在解决同学们的困惑</tspan><tspan x="2265" dy="15.4">。不是在传授知识，而是在给同学们解决困难</tspan><tspan x="2265" dy="15.4">。而反过来想一想自己平时的教学，感觉是自</tspan><tspan x="2265" dy="15.4">己在唱独角戏，只是在想如何将这个知识点给</tspan><tspan x="2265" dy="15.4">学生讲清楚，如何让学生会用，用得好，但是</tspan><tspan x="2265" dy="15.4">却忽略了学生们的思考，他们是怎么想的，如</tspan><tspan x="2265" dy="15.4">果他们独立去思考，会是什么程度，我采取怎</tspan><tspan x="2265" dy="15.4">样的教法会让他们想得更深，理解得更透彻，</tspan><tspan x="2265" dy="15.4">而不是简单的死记硬背。因此，我在今后的教</tspan><tspan x="2265" dy="15.4">学过程中会更多地去关注我的每一个学生，做</tspan><tspan x="2265" dy="15.4">好课前的准备工作（备知识、备学生）。</tspan></text></g>
<g id="n3_3" class="k3"><rect x="2022" y="1804" width="117" height="27" rx="5"/><text x="2028" y="1821.5">3、数学思想很重要</text></g>
<g id="n3_3a" class="k3"><rect x="2163" y="1758" width="249" height="119" rx="5"/><text x="2169" y="1775.5"><tspan x="2169" dy="0">数学思想是我平时教学中容易忽略的一个环节</tspan><tspan x="2169" dy="15.4">，感觉它没那么重要，总是一带而过，认为学</tspan><tspan x="2169" dy="15.4">生会做题就可以了。但是在刘老师这节课中充</tspan><tspan x="2169" dy="15.4">分地显示了它的重要性，让我感到思想的渗透</tspan><tspan x="2169" dy="15.4">强于习题的练习。为什么我们的学生在中考时</tspan><tspan x="2169" dy="15.4">总是看着最后一道大题感觉无从下手，我感觉</tspan><tspan x="2169" dy="15.4">和平时数学思想的渗透有很大关系。</tspan></text></g>
<g id="n3_4" class="k3"><rect x="2022" y="2087" width="149" height="27" rx="5"/><text x="2027" y="2104.5">4、情感激励重于知识讲解</text></g>
<g id="n3_4a" class="k3"><rect x="2196" y="1903" width="249" height="211" rx="5"/><text x="2202" y="1920.5"><tspan x="2202" dy="0">"爱因斯坦：这个世界用音乐来表现，用数学</tspan><tspan x="2202" dy="15.4">来概括。"刘老师一开始就说了这么一句话，</tspan><tspan x="2202" dy="15.4">学生的情绪马上就发生了变化，而坐在一旁的</tspan><tspan x="2202" dy="15.4">我也是第一次听到这句话，第一次感到原来数</tspan><tspan x="2202" dy="15.4">学有这么大的作用。在后边的教学中"你可以</tspan><tspan x="2202" dy="15.4">编教材了"等这一类的鼓励性语句，在我的课</tspan><tspan x="2202" dy="15.4">堂上是没有出现过的，原来是可以这样鼓励学</tspan><tspan x="2202" dy="15.4">生的。经过刘老师的鼓励，我感觉学生们学习</tspan><tspan x="2202" dy="15.4">的劲头很足，感觉这节课过得很快。为什么自</tspan><tspan x="2202" dy="15.4">己的教学中很少出现这种情况呢？如果我们每</tspan><tspan x="2202" dy="15.4">节课的情感激励都能达到刘老师的水平，那么</tspan><tspan x="2202" dy="15.4">我们的知识讲解将会很轻松，因为学生愿意学</tspan><tspan x="2202" dy="15.4">了，爱学了。</tspan></text></g>
<g id="n3_4b" class="k3"><rect x="2196" y="2141" width="249" height="103" rx="5"/><text x="2202" y="2158.5"><tspan x="2202" dy="0">当然，在听完这节课后我也有一点小小的建议</tspan><tspan x="2202" dy="15.4">，那就是教师在学生讨论时应该参与到学生中</tspan><tspan x="2202" dy="15.4">去，对小组讨论给予适当的指导，包括知识的</tspan><tspan x="2202" dy="15.4">启发引导、学生交流合作中注意的问题及对困</tspan><tspan x="2202" dy="15.4">难学生的关注等，使每一位同学都能有收获，</tspan><tspan x="2202" dy="15.4">使小组合作学习更具实效性。</tspan></text></g>

<!-- 第5篇 -->
<g id="n5_1" class="k5"><rect x="1750" y="2453" width="142" height="27" rx="5"/><text x="1755" y="2470.5">一、提出猜想，引入新知</text></g>
<g id="n5_1a" class="k5"><rect x="1914" y="2270" width="251" height="43" rx="5"/><text x="1920" y="2287.5"><tspan x="1920" dy="0">师(复习能被2、5整除的数的特征后)：请同学</tspan><tspan x="1920" dy="15.4">们猜一猜，能被3整除的数会有什么特征呢?</tspan></text></g>
<g id="n5_1b" class="k5"><rect x="1914" y="2338" width="152" height="28" rx="5"/><text x="1920" y="2356">生：个位是3、6、9的数。</text></g>
<g id="n5_1c" class="k5"><rect x="1914" y="2392" width="252" height="42" rx="5"/><text x="1920" y="2409.5"><tspan x="1920" dy="0">生：个位是0~9的数都有可能被3整除，如30</tspan><tspan x="1920" dy="15.4">、21、12......</tspan></text></g>
<g id="n5_1d" class="k5"><rect x="1914" y="2460" width="252" height="58" rx="5"/><text x="1920" y="2477.5"><tspan x="1920" dy="0">生：个位是0~9的数都不必须能被3整除，如</tspan><tspan x="1920" dy="15.4">11、13、14......(沉默片刻后，学生纷纷表示</tspan><tspan x="1920" dy="15.4">反对，并举出例子进行反驳)</tspan></text></g>
<g id="n5_1e" class="k5"><rect x="1914" y="2544" width="252" height="57" rx="5"/><text x="1920" y="2561.5"><tspan x="1920" dy="0">师：那么，能被3整除的数到底有什么特征呢</tspan><tspan x="1920" dy="15.4">?(出现了片刻的冷场)你们想透过自己的操作</tspan><tspan x="1920" dy="15.4">来发现这个特征吗?</tspan></text></g>
<g id="n5_1f" class="k5"><rect x="1914" y="2627" width="115" height="27" rx="5"/><text x="1920" y="2644.5">生：想!(跃跃欲试)</text></g>
<g id="n5_2" class="k5"><rect x="1750" y="2688" width="142" height="27" rx="5"/><text x="1755" y="2705.5">二、实验操作，初识新知</text></g>
<g id="n5_2a" class="k5"><rect x="1914" y="2681" width="252" height="42" rx="5"/><text x="1920" y="2698.5"><tspan x="1920" dy="0">各小组用自己组里的小棒摆数摆数，并完成老</tspan><tspan x="1920" dy="15.4">师发给你们的表格。</tspan></text></g>
<g id="n5_3" class="k5"><rect x="1750" y="3026" width="142" height="26" rx="5"/><text x="1755" y="3043.5">三、汇报交流，理解新知</text></g>
<g id="n5_3a" class="k5"><rect x="1914" y="2749" width="192" height="27" rx="5"/><text x="1920" y="2766.5">师：透过操作，你们发现了什么?</text></g>
<g id="n5_3b" class="k5"><rect x="1914" y="2802" width="252" height="42" rx="5"/><text x="1920" y="2819.5"><tspan x="1920" dy="0">生5：老师，我发现303、120、450、300、</tspan><tspan x="1920" dy="15.4">960等数能被3整除。</tspan></text></g>
<g id="n5_3c" class="k5"><rect x="1914" y="2870" width="252" height="42" rx="5"/><text x="1920" y="2887.5"><tspan x="1920" dy="0">生6：老师，我发现用3根小棒怎样摆都能摆</tspan><tspan x="1920" dy="15.4">出3的倍数。</tspan></text></g>
<g id="n5_3d" class="k5"><rect x="1914" y="2938" width="252" height="42" rx="5"/><text x="1920" y="2955.5"><tspan x="1920" dy="0">师：是吗，只能用3根小棒吗?(很多学生举手</tspan><tspan x="1920" dy="15.4">回答：6根、9根、12根......)</tspan></text></g>
<g id="n5_3e" class="k5"><rect x="1914" y="3006" width="252" height="43" rx="5"/><text x="1920" y="3023.5"><tspan x="1920" dy="0">生7：我发现小棒的根数只要是3的倍数，摆</tspan><tspan x="1920" dy="15.4">出的数就必须能被3整除。</tspan></text></g>
<g id="n5_3f" class="k5"><rect x="1914" y="3075" width="252" height="57" rx="5"/><text x="1920" y="3092.5"><tspan x="1920" dy="0">师：你们的发现很有价值!再观察一下，你们</tspan><tspan x="1920" dy="15.4">必须会有新的发现。(学生讨论一阵后开始举</tspan><tspan x="1920" dy="15.4">手)</tspan></text></g>
<g id="n5_3g" class="k5"><rect x="1914" y="3158" width="252" height="42" rx="5"/><text x="1920" y="3175.5"><tspan x="1920" dy="0">生8：我发现小棒的根数就是它所摆数的各位</tspan><tspan x="1920" dy="15.4">上的数字之和。</tspan></text></g>
<g id="n5_3h" class="k5"><rect x="1914" y="3227" width="252" height="42" rx="5"/><text x="1920" y="3244.5"><tspan x="1920" dy="0">生9：只要各位上的数字之和能被3整除，这</tspan><tspan x="1920" dy="15.4">个数就能被3整除。</tspan></text></g>
<g id="n5_3i" class="k5"><rect x="1914" y="3295" width="252" height="42" rx="5"/><text x="1920" y="3312.5"><tspan x="1920" dy="0">师：同学们真棒!自己发现了能被3整除的数</tspan><tspan x="1920" dy="15.4">的特征，同桌间互相再说一说。</tspan></text></g>
<g id="n5_4" class="k5"><rect x="1750" y="3363" width="163" height="27" rx="5"/><text x="1755" y="3380.5">四、巩固练习，运用新知(略)</text></g>
<g id="n5_5" class="k5"><rect x="1750" y="3657" width="163" height="27" rx="5"/><text x="1755" y="3674.5">五、回顾梳理，内化新知(略)</text></g>
<g id="n5_5a" class="k5"><rect x="1934" y="3416" width="252" height="288" rx="5"/><text x="1940" y="3433.5"><tspan x="1940" dy="0">本节课中，以学生的学习过程与学习情感体验</tspan><tspan x="1940" dy="15.4">为出发点，引导学生透过动手操作、主动探究</tspan><tspan x="1940" dy="15.4">的方式亲身经历知识的发展过程。没有一味地</tspan><tspan x="1940" dy="15.4">套用教材，而是为学生创造了实验操作的活动</tspan><tspan x="1940" dy="15.4">机会，让学生在实践操作中经历了"猜想—失</tspan><tspan x="1940" dy="15.4">败—疑问—求知—解决等一系列过程，逐</tspan><tspan x="1940" dy="15.4">步地感悟到一个数能否被3整除与所用小棒的</tspan><tspan x="1940" dy="15.4">根数有关。当学生透过操作对新知有所感悟后</tspan><tspan x="1940" dy="15.4">，就必然产生说的愿望。于是，安排小组交流</tspan><tspan x="1940" dy="15.4">和全班交流两个环节，让学生根据自己的感悟</tspan><tspan x="1940" dy="15.4">各抒己见，大胆争议甚至激烈辩论。交流的问</tspan><tspan x="1940" dy="15.4">题并非为了完成教师交给的任务，而是来自于</tspan><tspan x="1940" dy="15.4">学生自身的需求，是他们在感悟后急于表达而</tspan><tspan x="1940" dy="15.4">自然产生的想法。在学生交流的过程中，教师</tspan><tspan x="1940" dy="15.4">不断创造机会让学生自己去讨论、去体验、去</tspan><tspan x="1940" dy="15.4">感受，相互纠正和补充自己的片面认识，最终</tspan><tspan x="1940" dy="15.4">使新知(能被3整除的数的特征)一步一步浮出"</tspan><tspan x="1940" dy="15.4">水面"。</tspan></text></g>
<g id="n5_5b" class="k5"><rect x="1934" y="3730" width="252" height="103" rx="5"/><text x="1940" y="3747.5"><tspan x="1940" dy="0">在自主探索、亲身实践、观察思考、合作交流</tspan><tspan x="1940" dy="15.4">的氛围中，学生感悟和获取的不仅仅是数学知</tspan><tspan x="1940" dy="15.4">识，他们还不断体验数学的魅力，感受成功的</tspan><tspan x="1940" dy="15.4">喜悦，从而进一步认识自我、建立自信，逐步</tspan><tspan x="1940" dy="15.4">构成良好的心理品质，为他们未来的发展打下</tspan><tspan x="1940" dy="15.4">坚实的基础。</tspan></text></g>
</g>
</svg>
